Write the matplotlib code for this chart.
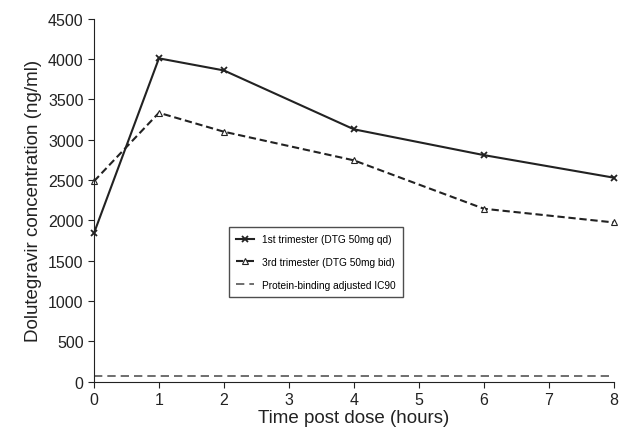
import matplotlib.pyplot as plt

plt.rcParams['font.family'] = ['Liberation Sans', 'DejaVu Sans']

hours = [0, 1, 2, 4, 6, 8]
first_tri = [1840, 4010, 3860, 3130, 2810, 2530]
third_tri = [2485, 3335, 3100, 2745, 2145, 1975]
ic90 = 70

fig = plt.figure(figsize=(6.22, 4.31), dpi=100)
ax = fig.add_axes([0.151, 0.112, 0.836, 0.842])

ax.plot(hours, first_tri, color='#222222', lw=1.5, marker='x', ms=4, mew=1.3,
        label='1st trimester (DTG 50mg qd)', clip_on=False)
ax.plot(hours, third_tri, color='#222222', lw=1.5, ls=(0, (3.5, 1.8)), marker='^',
        ms=4.5, mfc='white', mew=0.8, label='3rd trimester (DTG 50mg bid)',
        clip_on=False)
ax.axhline(ic90, color='#555555', lw=1.2, ls=(0, (5, 3)),
           label='Protein-binding adjusted IC90')

ax.set_xlim(0, 8)
ax.set_ylim(0, 4500)
ax.set_xticks(range(0, 9))
ax.set_yticks(range(0, 4501, 500))
for s in ['top', 'right']:
    ax.spines[s].set_visible(False)
ax.spines['left'].set_color('#222222')
ax.spines['bottom'].set_color('#222222')
ax.tick_params(labelsize=11.5, length=4, color='#222222', labelcolor='#222222')
ax.set_xlabel('Time post dose (hours)', fontsize=13.5, color='#222222', labelpad=1)
ax.set_ylabel('Dolutegravir concentration (ng/ml)', fontsize=13.5, color='#222222')

leg = ax.legend(loc='upper left', bbox_to_anchor=(0.25, 0.44), fontsize=7.3,
                frameon=True, fancybox=False, edgecolor='#222222',
                handlelength=1.8, labelspacing=1.25, borderpad=0.7)
leg.get_frame().set_linewidth(1.0)

fig.savefig('out.png', dpi=100)
